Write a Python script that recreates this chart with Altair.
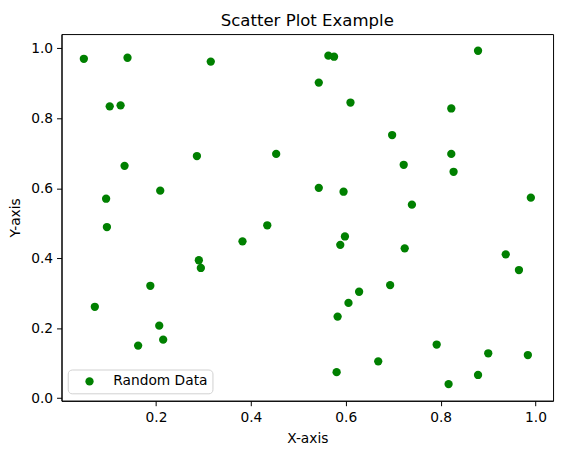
import altair as alt
import pandas as pd

x_vals = [0.048, 0.140, 0.3155, 0.1025, 0.1254, 0.2863, 0.4534, 0.1338, 0.209, 0.0949,
          0.0966, 0.4346, 0.3824, 0.2904, 0.2946, 0.1881, 0.0711, 0.2069, 0.2152, 0.1624,
          0.5634, 0.5754, 0.8789, 0.5432, 0.610, 0.8225, 0.6978, 0.8225, 0.7222, 0.8273,
          0.5432, 0.5954, 0.7395, 0.9902, 0.5983, 0.5885, 0.7243, 0.9373, 0.9651, 0.6936,
          0.6282, 0.6058, 0.5829, 0.7917, 0.9004, 0.9839, 0.6685, 0.5808, 0.8789, 0.8168]
y_vals = [0.970, 0.973, 0.962, 0.834, 0.837, 0.692, 0.698, 0.664, 0.593, 0.570,
          0.489, 0.494, 0.448, 0.394, 0.372, 0.321, 0.261, 0.207, 0.167, 0.150,
          0.979, 0.976, 0.993, 0.902, 0.845, 0.828, 0.752, 0.698, 0.667, 0.647,
          0.601, 0.590, 0.553, 0.573, 0.462, 0.438, 0.428, 0.411, 0.366, 0.323,
          0.304, 0.272, 0.233, 0.153, 0.128, 0.123, 0.105, 0.074, 0.066, 0.040]
series_name = "Random Data"
x_ticks = [0.2, 0.4, 0.6, 0.8, 1.0]
y_ticks = [0.0, 0.2, 0.4, 0.6, 0.8, 1.0]

df = pd.DataFrame({"x": x_vals, "y": y_vals, "series": [series_name] * len(x_vals)})

FONT = "DejaVu Sans"

chart = alt.Chart(df).mark_point(filled=True, opacity=1, size=70, shape="circle").encode(
    x=alt.X("x:Q", scale=alt.Scale(domain=[0.0009, 1.037], nice=False, zero=False),
            axis=alt.Axis(title="X-axis", values=x_ticks, format=".1f", grid=False,
                          tickSize=5, labelPadding=5, titlePadding=7,
                          labelFontSize=13.9, titleFontSize=13.9,
                          titleFontWeight="normal", labelColor="black", titleColor="black",
                          domainColor="black", tickColor="black")),
    y=alt.Y("y:Q", scale=alt.Scale(domain=[-0.0077, 1.0407], nice=False, zero=False),
            axis=alt.Axis(title="Y-axis", values=y_ticks, format=".1f", grid=False,
                          tickSize=5, labelPadding=4, titlePadding=8,
                          labelFontSize=13.9, titleFontSize=13.9,
                          titleFontWeight="normal", labelColor="black", titleColor="black",
                          domainColor="black", tickColor="black")),
    color=alt.Color("series:N", scale=alt.Scale(domain=[series_name], range=["#008000"]),
                    legend=alt.Legend(title=None, orient="none", legendX=6.3, legendY=338.5,
                                      fillColor="white", strokeColor="#d0d0d0", cornerRadius=4,
                                      padding=5, symbolSize=70, symbolType="circle",
                                      symbolOffset=10, labelOffset=17,
                                      labelFontSize=13.9, labelFont=FONT, labelColor="black")),
).properties(
    width=496,
    height=370,
    autosize="none",
    padding={"left": 54, "top": 24.3, "right": 6, "bottom": 50},
    title=alt.TitleParams("Scatter Plot Example", fontSize=16.7, font=FONT,
                          fontWeight="normal", color="black", offset=4, anchor="middle"),
).configure(
    font=FONT,
).configure_view(
    stroke="black", strokeWidth=1,
).configure_axis(
    labelFont=FONT, titleFont=FONT,
)

chart.save("out.html", embed_options={"renderer": "svg", "actions": False})
